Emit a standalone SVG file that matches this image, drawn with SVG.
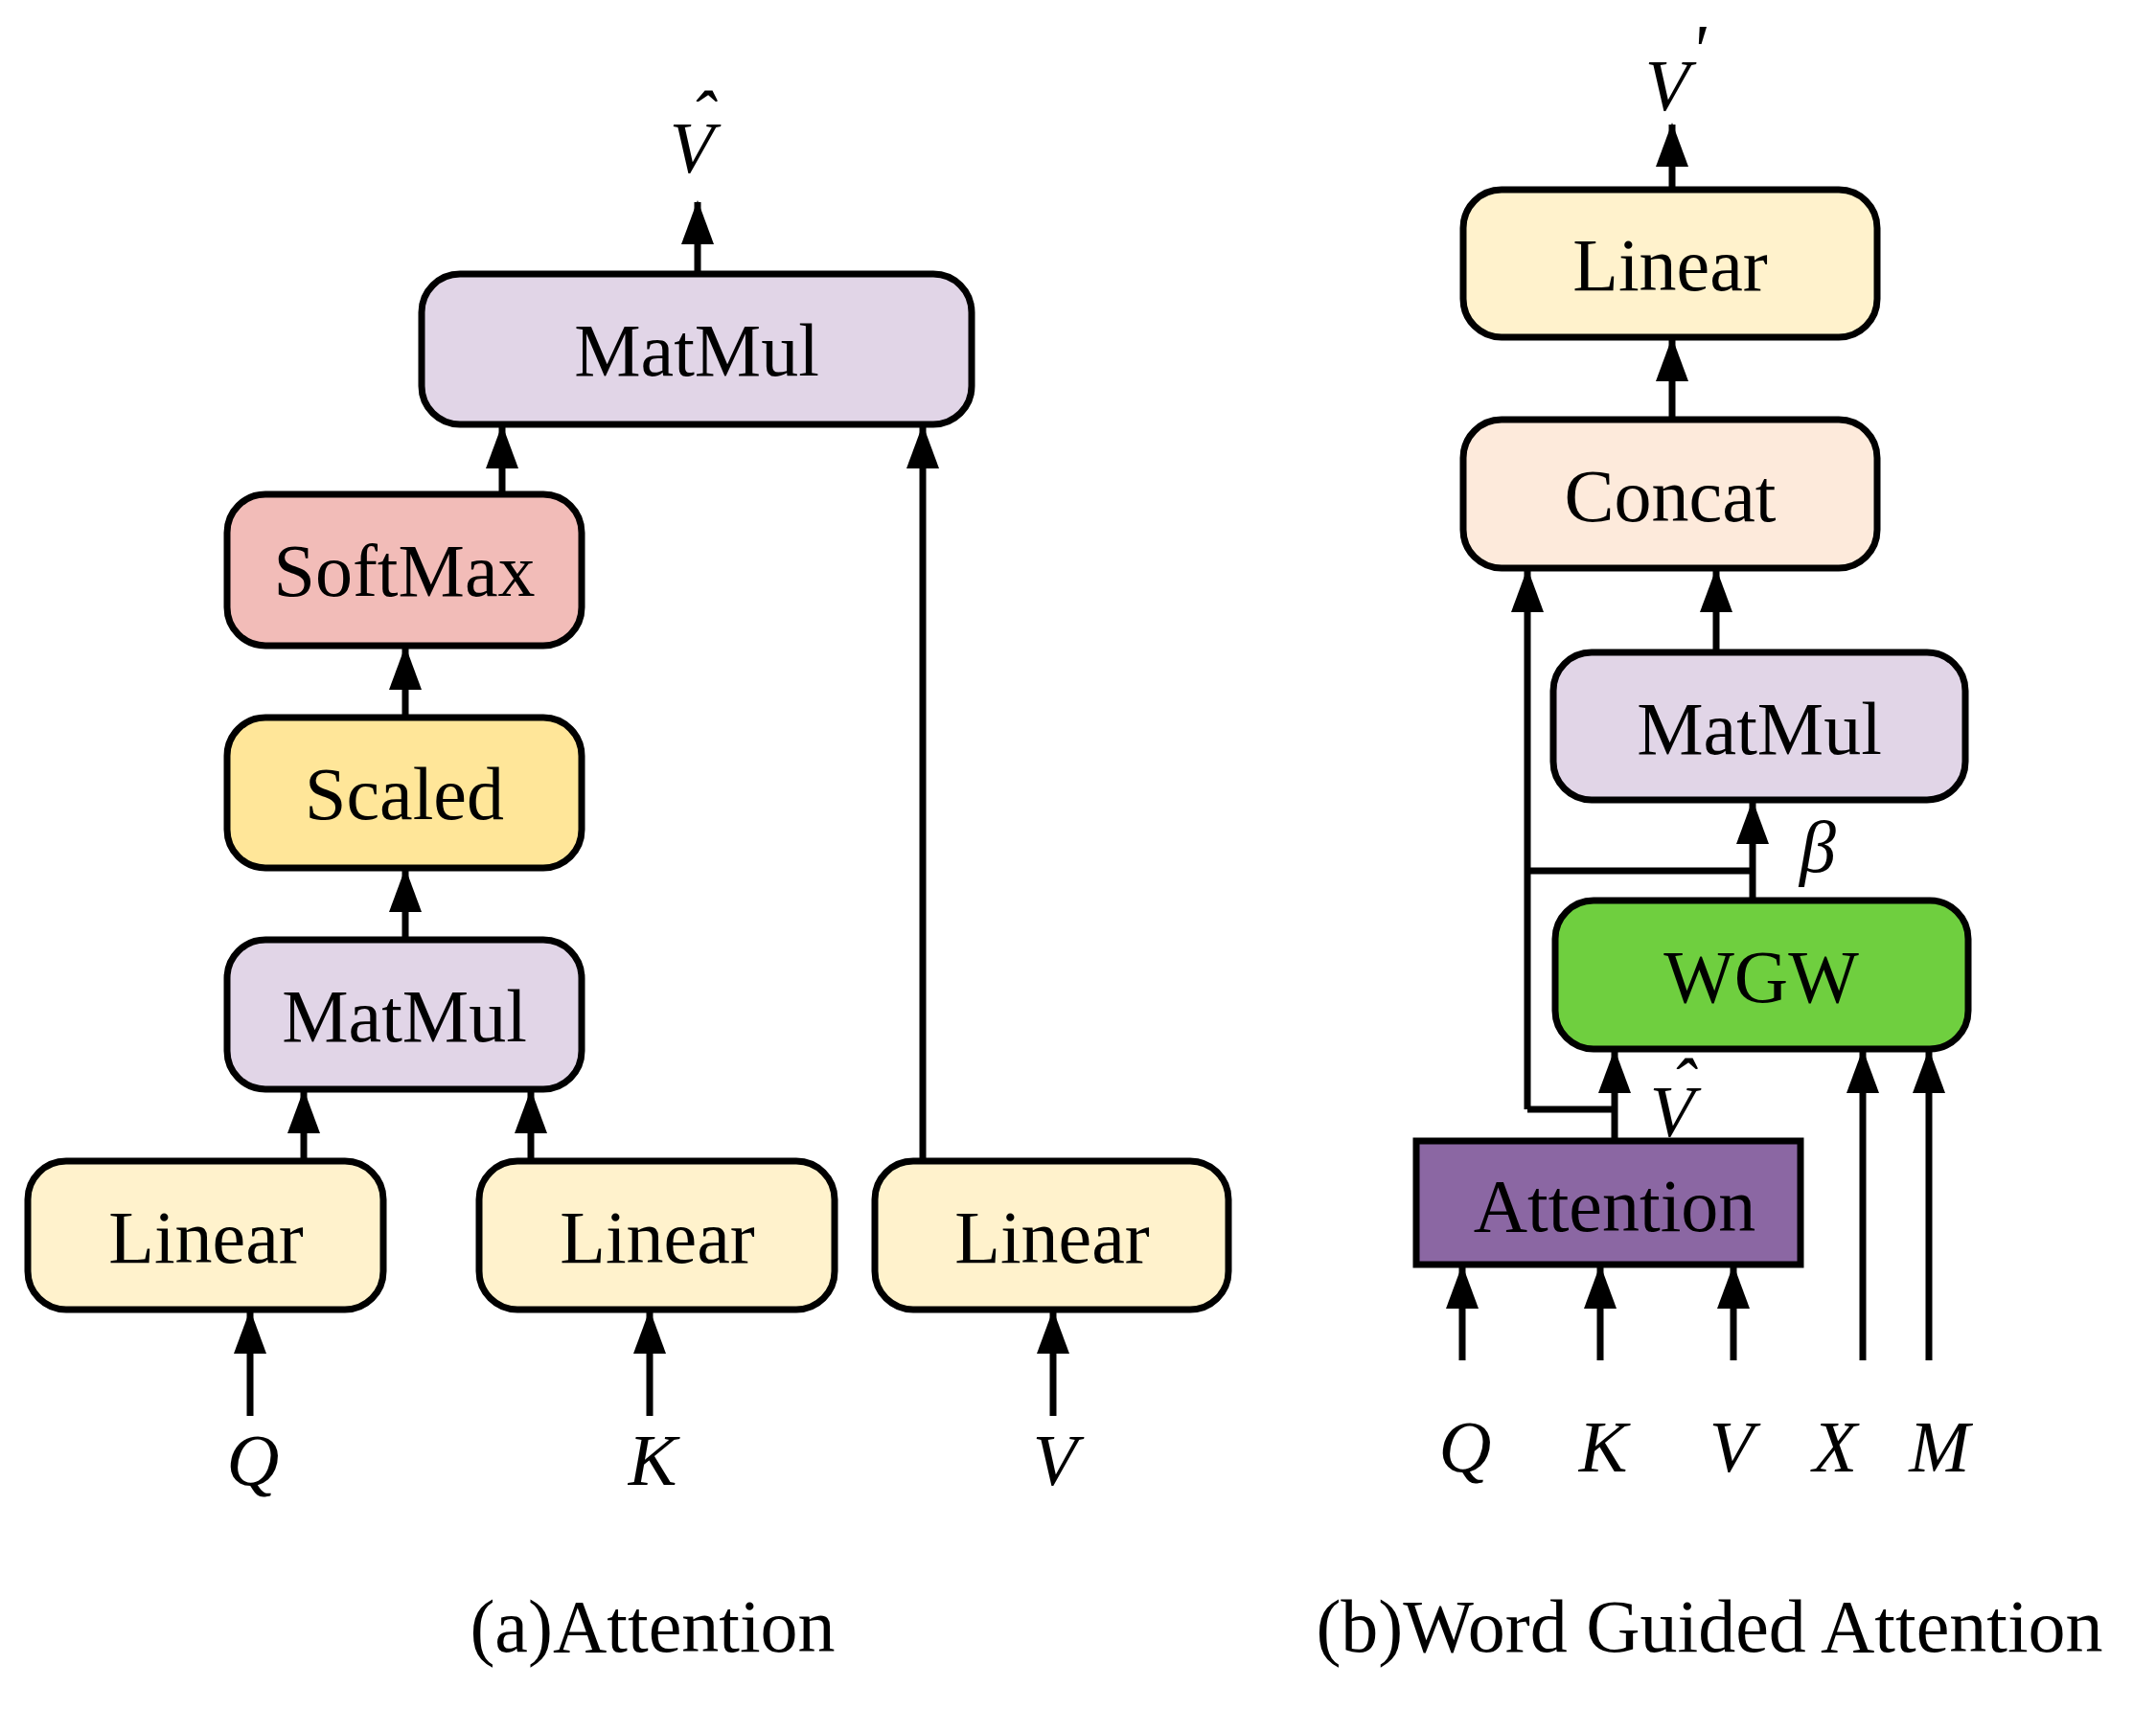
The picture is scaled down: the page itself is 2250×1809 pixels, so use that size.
<svg xmlns="http://www.w3.org/2000/svg" width="2250" height="1809" viewBox="0 0 2250 1809">
<style>
.b{stroke:#000;stroke-width:7}
.t{font-family:"Liberation Serif",serif;font-size:78px;text-anchor:middle}
.i{font-family:"Liberation Serif",serif;font-size:76px;font-style:italic;text-anchor:middle}
.c{font-family:"Liberation Serif",serif;font-size:78px;text-anchor:middle}
.l{stroke:#000;stroke-width:7;fill:none}
.a{stroke:#000;stroke-width:7;fill:none;marker-end:url(#h)}
</style>
<defs>
<marker id="h" markerUnits="userSpaceOnUse" markerWidth="46" markerHeight="34" refX="44" refY="17" orient="auto" viewBox="0 0 46 34"><path d="M0,0 L46,17 L0,34 z" fill="#000"/></marker></defs>
<g id="connectors">
<path class="a" d="M261,1478V1369"/><path class="a" d="M678,1478V1369"/><path class="a" d="M1099,1478V1369"/>
<path class="a" d="M317,1212V1139"/><path class="a" d="M554,1212V1139"/><path class="a" d="M423,981V908"/>
<path class="a" d="M423,749V676"/><path class="a" d="M524,516V445"/><path class="a" d="M963,1212V445"/><path class="a" d="M728,286V211"/>
<path class="a" d="M1745,198V130"/><path class="a" d="M1745,438V354"/><path class="a" d="M1791,681V595"/>
<path class="a" d="M1685,1191V1097"/><path class="l" d="M1685,1158H1594"/><path class="a" d="M1594,1158V595"/>
<path class="a" d="M1829,940V837"/><path class="l" d="M1594,909H1829"/>
<path class="a" d="M1944,1420V1097"/><path class="a" d="M2013,1420V1097"/>
<path class="a" d="M1526,1420V1322"/><path class="a" d="M1670,1420V1322"/><path class="a" d="M1809,1420V1322"/>
</g>
<g id="matmul_top"><rect class="b" x="440" y="286" width="574" height="157" rx="40" fill="#e1d5e7"/><text class="t" x="727" y="392">MatMul</text></g>
<g id="softmax"><rect class="b" x="237" y="516" width="370" height="158" rx="40" fill="#f2bcb8"/><text class="t" x="422" y="622">SoftMax</text></g>
<g id="scaled"><rect class="b" x="237" y="749" width="370" height="157" rx="40" fill="#ffe699"/><text class="t" x="422" y="855">Scaled</text></g>
<g id="matmul_l"><rect class="b" x="237" y="981" width="370" height="156" rx="40" fill="#e1d5e7"/><text class="t" x="422" y="1087">MatMul</text></g>
<g id="lin1"><rect class="b" x="29" y="1212" width="371" height="155" rx="40" fill="#fff2cc"/><text class="t" x="215" y="1318">Linear</text></g>
<g id="lin2"><rect class="b" x="500" y="1212" width="371" height="155" rx="40" fill="#fff2cc"/><text class="t" x="686" y="1318">Linear</text></g>
<g id="lin3"><rect class="b" x="913" y="1212" width="369" height="155" rx="40" fill="#fff2cc"/><text class="t" x="1098" y="1318">Linear</text></g>
<g id="lin_r"><rect class="b" x="1527" y="198" width="432" height="154" rx="40" fill="#fff2cc"/><text class="t" x="1743" y="303">Linear</text></g>
<g id="concat"><rect class="b" x="1527" y="438" width="432" height="155" rx="40" fill="#fdeadb"/><text class="t" x="1743" y="544">Concat</text></g>
<g id="matmul_r"><rect class="b" x="1621" y="681" width="430" height="154" rx="40" fill="#e1d5e7"/><text class="t" x="1836" y="787">MatMul</text></g>
<g id="wgw"><rect class="b" x="1623" y="940" width="431" height="155" rx="40" fill="#6fcf3f"/><text class="t" x="1838" y="1046">WGW</text></g>
<g id="attention"><rect class="b" x="1478" y="1191" width="401" height="129" fill="#8b67a3"/><text class="t" x="1685" y="1285">Attention</text></g>
<g id="labels">
<text class="i" x="264" y="1550">Q</text><text class="i" x="681" y="1550">K</text><text class="i" x="1101" y="1550">V</text>
<text class="i" x="722" y="180">V</text><text class="i" x="733" y="148" font-size="50">ˆ</text>
<text class="i" x="1740" y="115">V</text><text class="i" x="1772" y="78" font-size="44">'</text>
<text class="i" x="1745" y="1186">V</text><text class="i" x="1756" y="1158" font-size="50">ˆ</text>
<text class="i" x="1897" y="910">β</text>
<text class="i" x="1529" y="1536">Q</text><text class="i" x="1673" y="1536">K</text><text class="i" x="1807" y="1536">V</text><text class="i" x="1915" y="1536">X</text><text class="i" x="2024" y="1536">M</text>
<text class="c" x="681" y="1724">(a)Attention</text>
<text class="c" x="1784" y="1724">(b)Word Guided Attention</text>
</g>
</svg>
